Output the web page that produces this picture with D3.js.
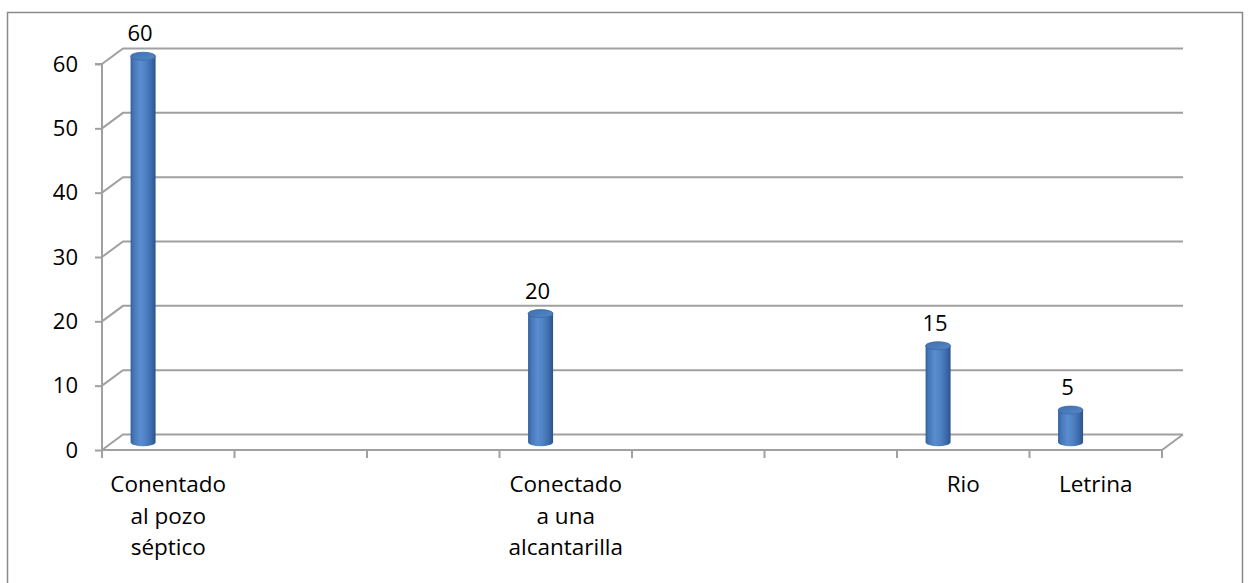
<!DOCTYPE html>
<html>
<head>
<meta charset="utf-8">
<script src="https://cdn.jsdelivr.net/npm/d3@7/dist/d3.min.js"></script>
<style>
  html, body { margin: 0; padding: 0; background: #fff; }
  svg { display: block; }
  text { font-family: "Open Sans", "Liberation Sans", sans-serif; fill: #000; }
</style>
</head>
<body>
<svg id="chart" width="1251" height="583"></svg>
<script>
// Categories (empty slots keep the spacing of the horizontal axis)
const categories = [
  "Conentado al pozo séptico", "", "",
  "Conectado a una alcantarilla", "", "",
  "Rio", "Letrina"
];
const categoryLines = [
  ["Conentado", "al pozo", "séptico"], [], [],
  ["Conectado", "a una", "alcantarilla"], [], [],
  ["Rio"], ["Letrina"]
];
const values = [60, null, null, 20, null, null, 15, 5];
const yTicks = [0, 10, 20, 30, 40, 50, 60];

const svg = d3.select("#chart");

// Frame
svg.append("rect")
  .attr("x", 7.5).attr("y", 12.5)
  .attr("width", 1235).attr("height", 600)
  .attr("fill", "none").attr("stroke", "#8a8a8a").attr("stroke-width", 1.5);

// Plot geometry: front plane plus a receding back wall
const left = 102, right = 1162;
const depthX = 21, depthY = -15.5;

const x = d3.scaleBand().domain(d3.range(categories.length)).range([left, right]).padding(0);
const y = d3.scaleLinear().domain([0, 60]).range([450, 64]);

const grid = svg.append("g").attr("stroke", "#a0a0a0").attr("stroke-width", 2).attr("fill", "none");

// Back wall gridlines with the diagonal joining each to the front axis
yTicks.forEach(v => {
  const yf = y(v), yb = y(v) + depthY;
  grid.append("path")
    .attr("d", `M${left},${yf}L${left + depthX},${yb}L${right + depthX},${yb}`);
});
// Floor: front edge and right-side diagonal
grid.append("path").attr("d", `M${left},${y(0)}L${right},${y(0)}L${right + depthX},${y(0) + depthY}`);

// Front vertical axis
const yAxis = d3.axisLeft(y).tickValues(yTicks).tickSize(7).tickPadding(17).tickFormat(d3.format("d"));
const ya = svg.append("g").attr("transform", `translate(${left},0)`).call(yAxis);
ya.select(".domain").attr("stroke", "#a0a0a0").attr("stroke-width", 2)
  .attr("d", `M-7,${y(60)}H0V${y(0) + 7}`);
ya.selectAll(".tick line").attr("stroke", "#a0a0a0").attr("stroke-width", 2);
ya.selectAll(".tick text").attr("font-size", 22).attr("font-family", "'Open Sans', sans-serif").attr("fill", "#000");

// Category boundary ticks on the horizontal axis
const bounds = d3.range(categories.length + 1).map(i => left + i * x.step());
svg.append("g").selectAll("line").data(bounds).join("line")
  .attr("x1", d => d).attr("x2", d => d)
  .attr("y1", y(0)).attr("y2", y(0) + 8)
  .attr("stroke", "#a0a0a0").attr("stroke-width", 2);

// Category labels
const labels = svg.append("g");
categoryLines.forEach((lines, i) => {
  const cx = x(i) + x.bandwidth() / 2;
  const t = labels.append("text").attr("text-anchor", "middle").attr("font-size", 22.5);
  lines.forEach((ln, j) => {
    t.append("tspan").attr("x", cx).attr("y", 492 + j * 31.5).text(ln);
  });
});

// Cylinder shading
const defs = svg.append("defs");
const g1 = defs.append("linearGradient").attr("id", "cyl").attr("x1", "0").attr("x2", "1").attr("y1", "0").attr("y2", "0");
[[0, "#30609c"], [0.12, "#4676b6"], [0.38, "#5a8dd0"], [0.6, "#4f82c4"], [0.85, "#3a69a8"], [1, "#2a5289"]]
  .forEach(([o, c]) => g1.append("stop").attr("offset", o).attr("stop-color", c));
const g2 = defs.append("linearGradient").attr("id", "cap").attr("x1", "0").attr("x2", "1").attr("y1", "0").attr("y2", "1");
[[0, "#3f6fae"], [1, "#5587c8"]].forEach(([o, c]) => g2.append("stop").attr("offset", o).attr("stop-color", c));

// Cylinders sit halfway into the depth
const barW = 25, ry = 4;
const barCx = i => x(i) + x.bandwidth() * 0.31;
const midY = v => y(v) + depthY / 2;

const data = values.map((v, i) => ({ i, v })).filter(d => d.v != null);
const bars = svg.append("g");
data.forEach(d => {
  const cx = barCx(d.i), top = midY(d.v), bot = midY(0);
  bars.append("path")
    .attr("d", `M${cx - barW / 2},${top}L${cx - barW / 2},${bot}A${barW / 2},${ry} 0 0 0 ${cx + barW / 2},${bot}L${cx + barW / 2},${top}Z`)
    .attr("fill", "url(#cyl)");
  bars.append("ellipse")
    .attr("cx", cx).attr("cy", top).attr("rx", barW / 2).attr("ry", ry)
    .attr("fill", "url(#cap)").attr("stroke", "#3b69a6").attr("stroke-width", 0.8);
  // Value label
  svg.append("text")
    .attr("x", cx - 3).attr("y", top - 15)
    .attr("text-anchor", "middle").attr("font-size", 22)
    .text(d.v);
});
</script>
</body>
</html>
